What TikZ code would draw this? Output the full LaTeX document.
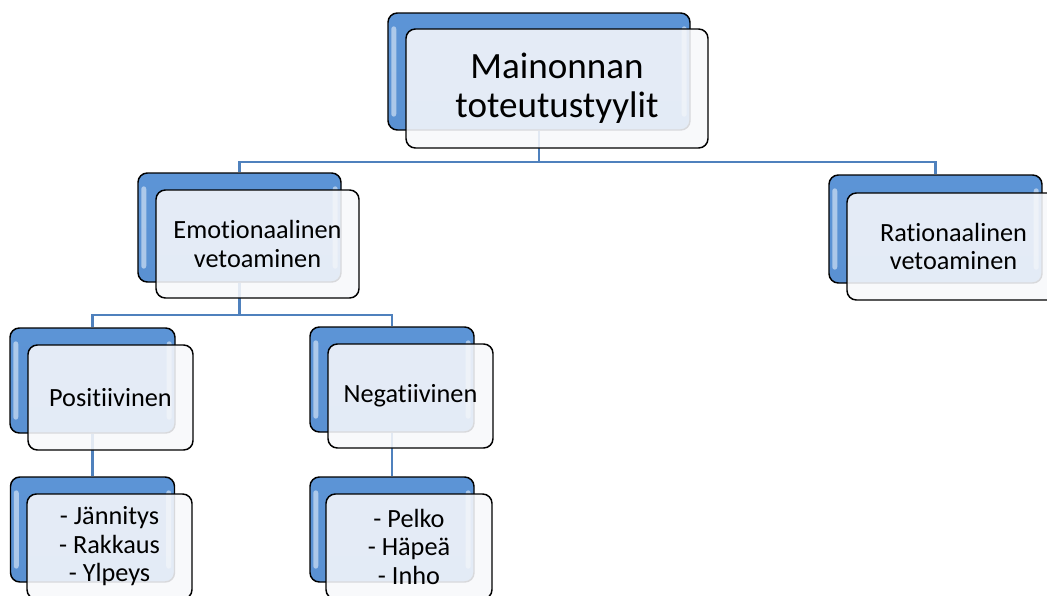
\documentclass[tikz,border=0pt]{standalone}
\usepackage{fontspec}
\setmainfont{Carlito}[Ligatures={NoCommon}]
\usetikzlibrary{backgrounds}
\def\px{0.75pt}
\definecolor{connblue}{RGB}{79,129,189}
\definecolor{backtop}{RGB}{92,148,214}
\definecolor{backmid}{RGB}{135,184,234}
\definecolor{backbot}{RGB}{90,145,210}
\definecolor{frontfill}{RGB}{247,248,251}
\tikzset{
  conn/.style={draw=connblue, line width=1.8pt},
  back/.style={draw=black, line width=1.1pt, rounded corners=7pt, top color=backtop, middle color=backmid, bottom color=backbot, inner sep=0pt},
  front/.style={draw=black, line width=1.1pt, rounded corners=7pt, fill=frontfill, fill opacity=0.88, text opacity=1, draw opacity=1, align=center, inner sep=0pt, font=\fontsize{19.7}{21.4}\selectfont},
}
\newcommand\hlstrip[1]{%
  \fill[white, fill opacity=0.5, rounded corners=2pt] ([shift={(4,14)}]#1.north west) rectangle ([shift={(9,-14)}]#1.south west);
  \fill[white, fill opacity=0.5, rounded corners=2pt] ([shift={(-9,14)}]#1.north east) rectangle ([shift={(-4,-14)}]#1.south east);
}
\begin{document}
\begin{tikzpicture}[x=0.75pt,y=-0.75pt]
\useasboundingbox (0,0) rectangle (1047,596);
\clip (0,0) rectangle (1047,596);
% top
\node[back, minimum width=302*\px, minimum height=117*\px] (topB) at (539,71.5) {};
\hlstrip{topB}
\node[front, minimum width=302*\px, minimum height=119*\px, font=\fontsize{27.8}{29.25}\selectfont] (top) at (557,88.5) {Mainonnan\\toteutustyylit};
% emotional
\node[back, minimum width=203*\px, minimum height=109*\px] (emoB) at (239.5,227.5) {};
\hlstrip{emoB}
\node[front, minimum width=203*\px, minimum height=108*\px] (emo) at (257.5,244) {Emotionaalinen\\vetoaminen};
% rational
\node[back, minimum width=213*\px, minimum height=108*\px] (ratB) at (935.5,229) {};
\hlstrip{ratB}
\node[front, minimum width=213*\px, minimum height=107*\px] (rat) at (953.5,246.5) {Rationaalinen\\vetoaminen};
% positive
\node[back, minimum width=165*\px, minimum height=105*\px] (posB) at (92.5,380.5) {};
\hlstrip{posB}
\node[front, minimum width=165*\px, minimum height=105*\px] (pos) at (110.5,397.5) {Positiivinen};
% negative
\node[back, minimum width=164*\px, minimum height=105*\px] (negB) at (392,379.5) {};
\hlstrip{negB}
\node[front, minimum width=165*\px, minimum height=104*\px] (neg) at (410.5,396) {Negatiivinen};
% positive list
\node[back, minimum width=164*\px, minimum height=105*\px] (jB) at (92.5,529.5) {};
\hlstrip{jB}
\node[front, minimum width=165*\px, minimum height=105*\px] (j) at (109.5,546.5) {- Jännitys\\- Rakkaus\\- Ylpeys};
% negative list
\node[back, minimum width=164*\px, minimum height=105*\px] (pB) at (392,529.5) {};
\hlstrip{pB}
\node[front, minimum width=166*\px, minimum height=105*\px] (p) at (409,546.5) {- Pelko\\- Häpeä\\- Inho};
% connectors
\begin{pgfonlayer}{background}
\draw[conn] (topB.south) -- ++(0,31) -| (emoB.north);
\draw[conn] (topB.south) -- ++(0,31) -| (ratB.north);
\draw[conn] (emoB.south) -- ++(0,32) -| (posB.north);
\draw[conn] (emoB.south) -- ++(0,32) -| (negB.north);
\draw[conn] (posB.south) -- (jB.north);
\draw[conn] (negB.south) -- (pB.north);
\end{pgfonlayer}
\end{tikzpicture}
\end{document}
